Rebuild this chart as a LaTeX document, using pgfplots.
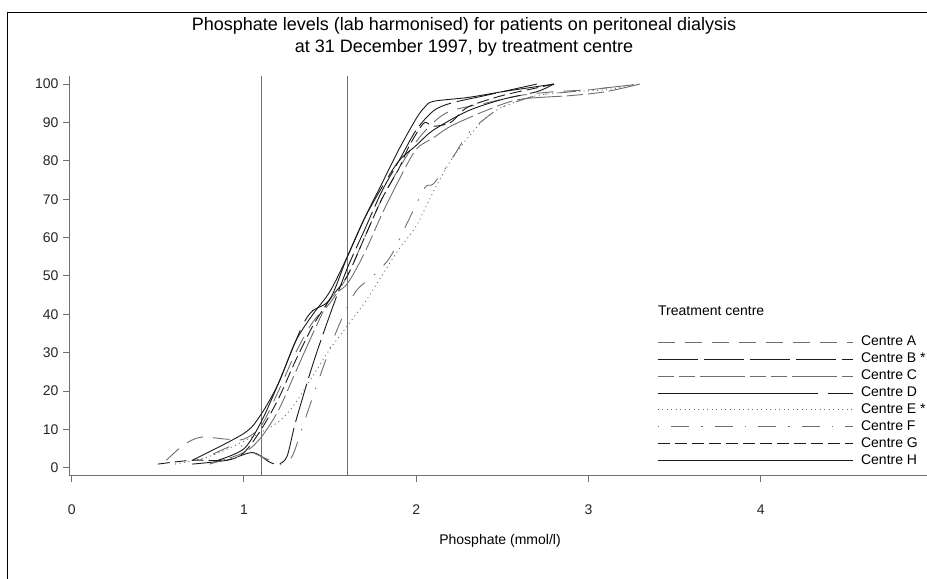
\documentclass[border=0pt]{standalone}
\usepackage{fontspec}
\setmainfont{Liberation Sans}
\usepackage{pgfplots}
\pgfplotsset{compat=1.18}
\definecolor{cblk}{HTML}{1A1A1A}
\definecolor{cgry}{HTML}{6E6E6E}
\definecolor{caxis}{HTML}{707070}
\begin{document}
\fontsize{14bp}{16bp}\selectfont
\begin{tikzpicture}[x=1bp,y=1bp]
\useasboundingbox (0,0) rectangle (927,579);
\clip (0,0) rectangle (927,579);
\draw[black, line width=1bp] (7,-5) -- (7,566) -- (935,566);
\node[font=\fontsize{18bp}{20bp}\selectfont] at (464,553) {Phosphate levels (lab harmonised) for patients on peritoneal dialysis};
\node[font=\fontsize{18bp}{20bp}\selectfont] at (464,531) {at 31 December 1997, by treatment centre};
\node[anchor=west, inner sep=0pt] at (658,268) {Treatment centre};
\node[inner sep=0pt] at (500,38) {Phosphate (mmol/l)};
\begin{axis}[
  at={(69.3bp,103bp)}, anchor=south west,
  scale only axis, width=857.7bp, height=400bp,
  xmin=-0.014, xmax=4.966, ymin=-2.1, ymax=102.1,
  axis x line=bottom, axis y line=left,
  axis line style={caxis, line width=1bp, -},
  xtick={0,1,2,3,4}, ytick={0,10,...,100},
  tick align=outside, major tick length=6bp,
  tick style={caxis, line width=1bp},
  tick label style={font=\fontsize{14bp}{16bp}\selectfont, text=black!85},
  xticklabel style={yshift=-18bp},
  /pgf/number format/assume math mode=true,
  legend style={at={(axis description cs:0.6852,0.351)}, anchor=north west,
    draw=none, fill=none, inner sep=0pt, row sep=3.9bp, column sep=8bp,
    nodes={inner sep=0pt, text height=10bp, text depth=3bp},
    font=\fontsize{14bp}{16bp}\selectfont},
  legend cell align=left,
  legend image code/.code={\draw[#1] (0bp,0bp) -- (195bp,0bp);},
  every axis plot/.append style={line width=0.9bp},
]
% reference lines
\addplot[caxis, line width=1bp, forget plot] coordinates {(1.1,-2.1) (1.1,102.1)};
\addplot[caxis, line width=1bp, forget plot] coordinates {(1.6,-2.1) (1.6,102.1)};
% Centre A
\addplot[cgry, smooth, dash pattern=on 17bp off 10bp] coordinates {
(0.55,2) (0.65,6) (0.75,8) (0.9,7.5) (1.0,7.5) (1.1,11) (1.2,20) (1.3,30) (1.4,38) (1.5,43) (1.6,50) (1.7,60) (1.8,70) (1.9,78) (2.0,85) (2.1,90) (2.2,93) (2.4,95) (2.6,97) (2.8,98) (3.0,98.5) (3.2,99.5) (3.3,100)};
\addlegendentry{Centre A}
% Centre B
\addplot[cblk, smooth, dash pattern=on 40bp off 6bp] coordinates {
(0.7,1) (0.9,2) (1.05,4) (1.15,1.5) (1.2,1) (1.25,3) (1.3,12) (1.4,27) (1.5,40) (1.6,52) (1.7,62) (1.8,72) (1.9,80) (2.0,88) (2.1,93) (2.2,95) (2.4,97) (2.6,99) (2.7,100)};
\addlegendentry{Centre B *}
% Centre C
\addplot[cgry, smooth, dash pattern=on 16bp off 5bp on 16bp off 5bp on 45bp off 5bp] coordinates {
(0.8,1) (1.0,4) (1.1,8) (1.2,15) (1.3,25) (1.4,35) (1.5,44) (1.6,48) (1.7,56) (1.8,66) (1.9,75) (2.0,83) (2.1,86) (2.2,89) (2.4,93) (2.6,96) (2.9,97) (3.1,98) (3.3,100)};
\addlegendentry{Centre C}
% Centre D
\addplot[cblk, smooth, dash pattern=on 160bp off 10bp] coordinates {
(0.85,2) (1.0,5) (1.1,12) (1.2,22) (1.3,33) (1.35,38) (1.4,41) (1.5,44) (1.6,55) (1.7,65) (1.8,73) (1.9,80) (2.0,84) (2.1,88) (2.3,93) (2.5,96) (2.7,98) (2.8,100)};
\addlegendentry{Centre D}
% Centre E
\addplot[cgry, smooth, dash pattern=on 1bp off 3.5bp] coordinates {
(0.6,1) (0.8,3) (1.0,7) (1.2,12) (1.3,17) (1.4,24) (1.5,31) (1.6,37) (1.7,43) (1.8,50) (1.9,57) (2.0,63) (2.1,72) (2.2,80) (2.3,86) (2.4,91) (2.5,94) (2.7,97) (2.9,98) (3.1,98.5) (3.3,100)};
\addlegendentry{Centre E *}
% Centre F
\addplot[cgry, smooth, dash pattern=on 1.5bp off 12bp on 18bp off 12bp] coordinates {
(0.75,2) (0.95,6) (1.05,4) (1.15,2) (1.22,0.8) (1.28,3) (1.35,12) (1.45,25) (1.55,37) (1.65,46) (1.75,50) (1.85,55) (1.95,64) (2.05,73) (2.1,74) (2.2,80) (2.3,87) (2.4,91) (2.5,94) (2.7,97) (2.9,98) (3.1,99) (3.3,100)};
\addlegendentry{Centre F}
% Centre G
\addplot[cblk, smooth, dash pattern=on 12bp off 5bp] coordinates {
(0.5,1) (0.7,2) (0.9,2) (1.0,4) (1.1,10) (1.2,18) (1.3,28) (1.4,37) (1.5,44) (1.6,50) (1.7,60) (1.8,70) (1.9,78) (1.95,83) (2.0,87) (2.05,90) (2.1,89) (2.2,90) (2.3,94) (2.5,97) (2.7,99) (2.8,100)};
\addlegendentry{Centre G}
% Centre H
\addplot[cblk, smooth] coordinates {
(0.7,2) (1.0,9) (1.1,14) (1.2,22) (1.3,33) (1.4,40) (1.5,46) (1.6,55) (1.7,65) (1.8,74) (1.9,83) (2.0,91) (2.05,94) (2.1,95.5) (2.3,96.5) (2.5,98) (2.65,99) (2.8,100)};
\addlegendentry{Centre H}
\end{axis}
\end{tikzpicture}
\end{document}
